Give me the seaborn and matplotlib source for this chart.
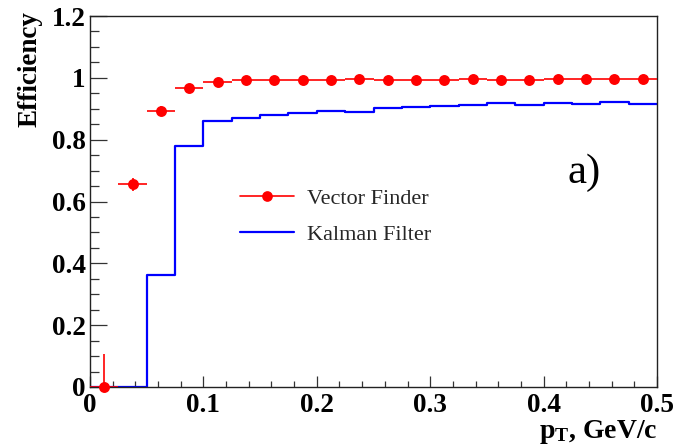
import numpy as np
import pandas as pd
import matplotlib
matplotlib.use("Agg")
import matplotlib.pyplot as plt
from matplotlib.ticker import MultipleLocator, FuncFormatter
from matplotlib.lines import Line2D
import seaborn as sns

# Transverse-momentum bins (GeV/c): centres of 20 bins of width 0.025
pt_centers = [0.0125, 0.0375, 0.0625, 0.0875, 0.1125, 0.1375, 0.1625, 0.1875,
              0.2125, 0.2375, 0.2625, 0.2875, 0.3125, 0.3375, 0.3625, 0.3875,
              0.4125, 0.4375, 0.4625, 0.4875]
bin_width = 0.025

# Track-finding efficiency per bin
vector_finder = [0.0, 0.655, 0.893, 0.966, 0.988, 0.994, 0.994, 0.994, 0.994, 0.997,
                 0.994, 0.994, 0.994, 0.997, 0.994, 0.994, 0.997, 0.997, 0.997, 0.997]
vector_finder_err = [0.107, 0.022, 0.017, 0.012, 0.008, 0.005, 0.005, 0.005, 0.005, 0.005,
                     0.005, 0.005, 0.005, 0.005, 0.005, 0.005, 0.005, 0.005, 0.005, 0.005]
kalman_filter = [0.0, 0.0, 0.363, 0.779, 0.860, 0.871, 0.880, 0.885, 0.892, 0.889,
                 0.901, 0.905, 0.908, 0.912, 0.919, 0.912, 0.919, 0.916, 0.923, 0.914]

series_labels = ["Vector Finder", "Kalman Filter"]
panel_tag = "a)"

df = pd.DataFrame({"pt": pt_centers, "vf": vector_finder,
                   "vf_err": vector_finder_err, "kf": kalman_filter})

sns.set_theme(style="ticks")
plt.rcParams["font.family"] = ["Liberation Serif", "DejaVu Serif"]
plt.rcParams["mathtext.fontset"] = "custom"
plt.rcParams["mathtext.rm"] = "Liberation Serif"
plt.rcParams["mathtext.bf"] = "Liberation Serif:bold"
plt.rcParams["mathtext.it"] = "Liberation Serif:italic"

RED = "#ff0000"
BLUE = "#0000ff"

fig = plt.figure(figsize=(6.75, 4.46), dpi=100)
ax = fig.add_axes([90 / 675, 59 / 446, 567 / 675, 371 / 446])

# Kalman filter efficiency as a step histogram
x_lo = pt_centers[0] - bin_width / 2
x_hi = pt_centers[-1] + bin_width / 2
sns.histplot(data=df, x="pt", weights="kf", binwidth=bin_width, binrange=(x_lo, x_hi),
             element="step", fill=False, color=BLUE, linewidth=1.6, ax=ax, zorder=2)

# Vector finder efficiency as points with bin-width error bars
ax.errorbar(df["pt"], df["vf"], xerr=bin_width / 2, yerr=df["vf_err"], fmt="none",
            ecolor=RED, elinewidth=1.2, capsize=0, zorder=3)
sns.scatterplot(data=df, x="pt", y="vf", color=RED, s=62, edgecolor=RED,
                linewidth=0, ax=ax, zorder=4, clip_on=False)

ax.set_xlim(0, 0.5)
ax.set_ylim(0, 1.2)

fmt = FuncFormatter(lambda v, p: f"{v:g}")
ax.xaxis.set_major_locator(MultipleLocator(0.1))
ax.xaxis.set_minor_locator(MultipleLocator(0.02))
ax.yaxis.set_major_locator(MultipleLocator(0.2))
ax.yaxis.set_minor_locator(MultipleLocator(0.05))
ax.xaxis.set_major_formatter(fmt)
ax.yaxis.set_major_formatter(fmt)

ax.tick_params(axis="both", which="both", direction="in", top=False, right=False,
               color="#333333", width=0.9)
ax.tick_params(axis="x", which="major", length=8, pad=4)
ax.tick_params(axis="x", which="minor", length=4)
ax.tick_params(axis="y", which="major", length=12.5, pad=3)
ax.tick_params(axis="y", which="minor", length=6.5)
for lab in ax.get_xticklabels() + ax.get_yticklabels():
    lab.set_fontsize(19.5)
    lab.set_fontweight("bold")
    lab.set_color("black")

for side in ["left", "bottom", "top", "right"]:
    ax.spines[side].set_visible(True)
    ax.spines[side].set_color("#222222")
    ax.spines[side].set_linewidth(1.0)

ax.set_ylabel("Efficiency", fontsize=19.5, fontweight="bold", color="black", loc="top")
ax.yaxis.label.set_ha("right")
ax.yaxis.set_label_coords(-0.084, 1.014)
ax.set_xlabel(r"$\mathbf{p}_{\mathbf{T}}$, GeV/c", fontsize=20, fontweight="bold",
              color="black", loc="right")
ax.xaxis.label.set_va("baseline")
ax.xaxis.set_label_coords(1.0, -0.137)

handles = [
    Line2D([], [], color=RED, linewidth=1.2, marker="o", markersize=7.7,
           markeredgewidth=0),
    Line2D([], [], color=BLUE, linewidth=1.6),
]
ax.legend(handles, series_labels, loc="upper left", bbox_to_anchor=(0.248, 0.56),
          frameon=False, fontsize=16, handlelength=2.45, handletextpad=0.6,
          labelspacing=0.72, borderaxespad=0)

ax.text(0.871, 0.55, panel_tag, transform=ax.transAxes, fontsize=31,
        ha="center", va="baseline", color="black")

fig.savefig("out.png", dpi=100)
